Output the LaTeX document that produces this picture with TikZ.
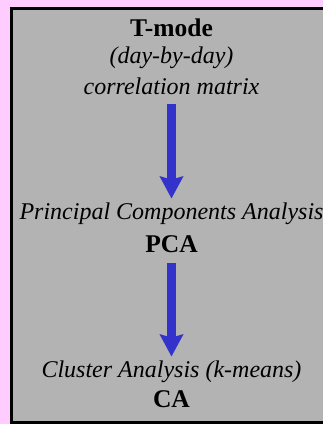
\documentclass[tikz,border=0pt]{standalone}
\usepackage{fontspec}
\setmainfont{Liberation Serif}
\usetikzlibrary{arrows.meta}
\definecolor{bgpink}{HTML}{FFCCFF}
\definecolor{panelgray}{HTML}{B3B3B3}
\definecolor{arrowblue}{HTML}{3333CC}
\begin{document}
\begin{tikzpicture}[x=1pt,y=-1pt,
  lbl/.style={inner sep=0pt, anchor=base, font=\fontsize{24}{28}\selectfont\itshape},
  ttl/.style={inner sep=0pt, anchor=base, font=\fontsize{25.5}{30}\selectfont\bfseries},
  flow/.style={draw=arrowblue, line width=9pt,
    -{Stealth[length=22pt,width=23pt,inset=3pt]}}]
% page background and frame
\fill[bgpink] (0,0) rectangle (323,424);
\useasboundingbox (0,0) rectangle (323,424);
\begin{scope}
  \clip (0,0) rectangle (323,424);
  \filldraw[fill=panelgray, draw=black, line width=3pt] (11.5,8) rectangle (340,422.5);
\end{scope}
% text blocks
\node[ttl] (tmode) at (171.5,36.5) {T-mode};
\node[lbl] (daily) at (171.5,63) {(day-by-day)};
\node[lbl] (corr)  at (171.5,94) {correlation matrix};
\node[lbl] (pcaname) at (171.5,219) {Principal Components Analysis};
\node[ttl] (pca) at (171.5,252) {PCA};
\node[lbl] (caname) at (171.5,377) {Cluster Analysis (k-means)};
\node[ttl] (ca) at (171.5,407.5) {CA};
% flow arrows
\draw[flow, shorten <=10pt, shorten >=3.6pt] (corr.south) -- (pcaname.north);
\draw[flow, shorten <=11pt, shorten >=3.6pt] (pca.south) -- (caname.north);
\end{tikzpicture}
\end{document}
